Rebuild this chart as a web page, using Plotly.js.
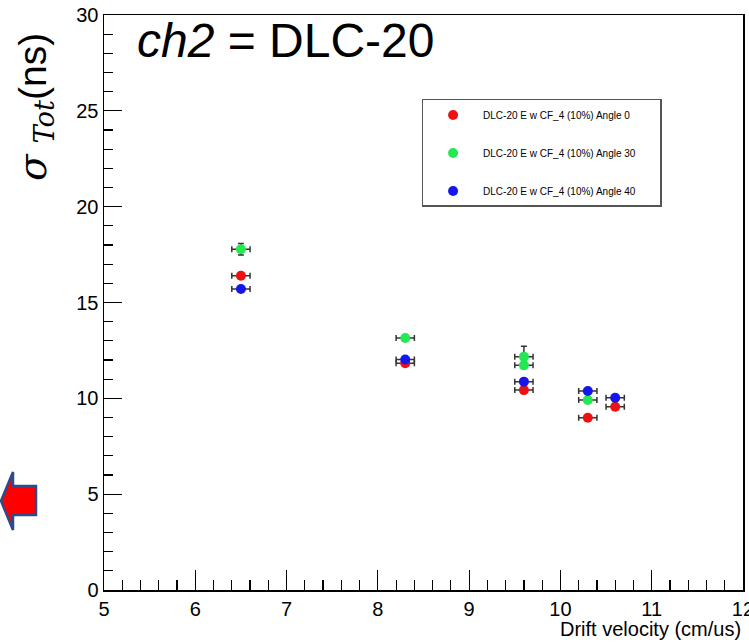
<!DOCTYPE html>
<html><head><meta charset="utf-8">
<script src="https://cdn.plot.ly/plotly-3.0.1.min.js"></script>
<style>html,body{margin:0;padding:0;background:#fff}</style>
</head><body><div id="chart" style="width:749px;height:643px"></div>
<script>
// ---- data ----
const seriesNames = [
  "DLC-20 E w CF_4 (10%) Angle 0",
  "DLC-20 E w CF_4 (10%) Angle 30",
  "DLC-20 E w CF_4 (10%) Angle 40"
];
const xAngle0  = [6.5, 8.3, 9.6, 10.3, 10.6];
const yAngle0  = [16.4, 11.83, 10.43, 8.99, 9.56];
const eyAngle0 = [0.15, 0.12, 0.12, 0.12, 0.12];

const xAngle30  = [6.5, 8.3, 9.6, 9.6, 10.3];
const yAngle30  = [17.78, 13.15, 12.17, 11.72, 9.91];
const eyAngle30 = [0.3, 0.12, 0.55, 0.15, 0.12];

const xAngle40  = [6.5, 8.3, 9.6, 10.3, 10.6];
const yAngle40  = [15.7, 12.03, 10.87, 10.38, 10.03];
const eyAngle40 = [0.12, 0.12, 0.12, 0.12, 0.12];

const xErr = 0.1;
const xTicks = [5, 6, 7, 8, 9, 10, 11, 12];
const yTicks = [0, 5, 10, 15, 20, 25, 30];
const colors = ["#ee1111", "#22e852", "#1515ee"];

// ---- traces ----
const PAD = "\u00A0\u00A0\u00A0\u00A0\u00A0\u00A0\u00A0";
function mk(name, x, y, ey, color, grp) {
  return {
    type: "scatter", mode: "markers", name: name + PAD, legendgroup: grp,
    x: x, y: y,
    marker: {color: color, size: 10},
    error_x: {type: "constant", value: xErr, color: "#333", thickness: 1.5, width: 3},
    error_y: {type: "data", array: ey, color: "#333", thickness: 1.5, width: 3},
    cliponaxis: false
  };
}
const data = [
  mk(seriesNames[0], xAngle0, yAngle0, eyAngle0, colors[0], "g0"),
  mk(seriesNames[1], xAngle30, yAngle30, eyAngle30, colors[1], "g30"),
  mk(seriesNames[2], xAngle40, yAngle40, eyAngle40, colors[2], "g40")
];

const FONT = "Liberation Sans, Arial, sans-serif";
const axisBase = {
  showline: true, linecolor: "#000", linewidth: 1.5, mirror: true,
  showgrid: false, zeroline: false,
  ticks: "inside", tickcolor: "#000", tickwidth: 1.2,
  ticklabeloverflow: "allow",
  tickfont: {family: FONT, size: 20, color: "#000"}
};

const layout = {
  width: 749, height: 643,
  margin: {l: 104, r: 6, t: 15, b: 53},
  paper_bgcolor: "#fff", plot_bgcolor: "#fff",
  font: {family: FONT, color: "#000"},
  xaxis: Object.assign({}, axisBase, {
    range: [5, 12.0001], tickmode: "array", tickvals: xTicks, ticktext: xTicks.map(String),
    ticklen: 20,
    minor: {ticks: "inside", ticklen: 10, dtick: 0.2, tick0: 5, tickcolor: "#000", tickwidth: 1.2}
  }),
  yaxis: Object.assign({}, axisBase, {
    range: [0, 30], tickmode: "array", tickvals: yTicks, ticktext: yTicks.map(String),
    ticklen: 18,
    minor: {ticks: "inside", ticklen: 9, dtick: 1, tick0: 0, tickcolor: "#000", tickwidth: 1.2}
  }),
  showlegend: true,
  legend: {
    x: 0.497, y: 0.854, xanchor: "left", yanchor: "top",
    bgcolor: "#fff", bordercolor: "#555", borderwidth: 1.5,
    font: {family: FONT, size: 10, color: "#000"},
    itemwidth: 50, valign: "middle", tracegroupgap: 19, traceorder: "grouped"
  },
  annotations: [
    {xref: "paper", yref: "paper", x: 0.048, y: 0.955, xanchor: "left", yanchor: "middle",
     showarrow: false, text: "<i>ch2</i> = DLC-20", font: {family: FONT, size: 48, color: "#000"}},
    {xref: "paper", yref: "paper", x: -0.108, y: 0.84, xanchor: "center", yanchor: "middle",
     showarrow: false, textangle: -90,
     text: "<span style='font-family:DejaVu Serif'><i>σ</i></span> <sub><span style='font-family:DejaVu Serif'><i>Tot</i></span></sub>(ns)",
     font: {family: FONT, size: 39, color: "#000"}},
    {xref: "paper", yref: "paper", x: 1, y: -0.068, xanchor: "right", yanchor: "middle",
     showarrow: false, text: "Drift velocity (cm/us)", font: {family: FONT, size: 20, color: "#000"}}
  ],
  shapes: [
    {type: "path", xref: "paper", yref: "paper",
     path: "M -0.1612 0.1548 L -0.1424 0.2052 L -0.1424 0.1809 L -0.1064 0.1809 L -0.1064 0.1304 L -0.1424 0.1304 L -0.1424 0.1043 Z",
     fillcolor: "#ff0000", line: {color: "#2f4a8a", width: 2.5}}
  ]
};

Plotly.newPlot("chart", data, layout, {displayModeBar: false, staticPlot: true});
</script>
</body></html>
